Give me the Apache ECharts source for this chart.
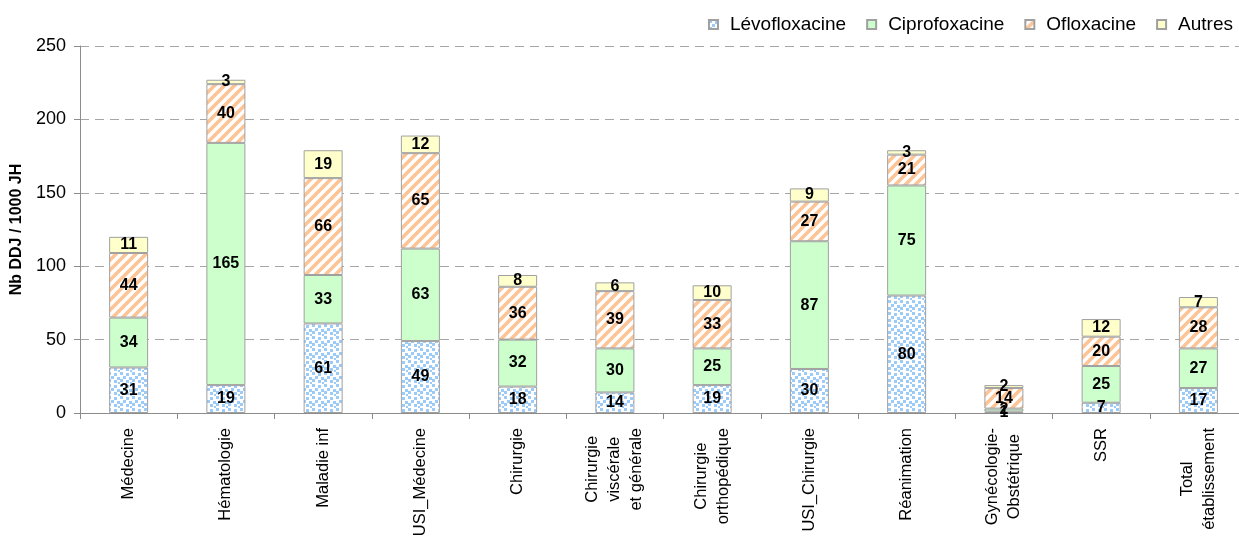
<!DOCTYPE html>
<html>
<head>
<meta charset="utf-8">
<script src="https://cdn.jsdelivr.net/npm/echarts@6/dist/echarts.min.js"></script>
<style>
html,body{margin:0;padding:0;background:#fff;}
#chart{width:1239px;height:536px;}
</style>
</head>
<body>
<div id="chart"></div>
<script>
const categories = ['Médecine', 'Hématologie', 'Maladie inf', 'USI_Médecine', 'Chirurgie',
  'Chirurgie\nviscérale\net générale', 'Chirurgie\northopédique', 'USI_Chirurgie', 'Réanimation',
  'Gynécologie-\nObstétrique', 'SSR', 'Total\nétablissement'];
const levofloxacine = [31, 19, 61, 49, 18, 14, 19, 30, 80, 1, 7, 17];
const ciprofoxacine = [34, 165, 33, 63, 32, 30, 25, 87, 75, 2, 25, 27];
const ofloxacine = [44, 40, 66, 65, 36, 39, 33, 27, 21, 14, 20, 28];
const autres = [11, 3, 19, 12, 8, 6, 10, 9, 3, 2, 12, 7];
const seriesNames = ['Lévofloxacine', 'Ciprofoxacine', 'Ofloxacine', 'Autres'];
const yTicks = [0, 50, 100, 150, 200, 250];

const FONT = '"Liberation Sans", Arial, sans-serif';

function dotsPattern() {
  const c = document.createElement('canvas');
  c.width = 12; c.height = 12;
  const g = c.getContext('2d');
  g.fillStyle = '#ffffff'; g.fillRect(0, 0, 12, 12);
  g.fillStyle = '#9dcbf8';
  const pts = [[0,0],[6,1],[3,4],[9,5],[0,7],[6,8],[10,10]];
  pts.forEach(p => g.fillRect(p[0], p[1], 3, 3));
  return {image: c, repeat: 'repeat'};
}
function stripesPattern() {
  const s = 10;
  const c = document.createElement('canvas');
  c.width = s; c.height = s;
  const g = c.getContext('2d');
  g.fillStyle = '#ffffff'; g.fillRect(0, 0, s, s);
  g.strokeStyle = '#fdc496';
  g.lineWidth = 3.6;
  g.beginPath();
  g.moveTo(-s, 2 * s); g.lineTo(2 * s, -s);
  g.moveTo(-s, s); g.lineTo(s, -s);
  g.moveTo(0, 2 * s); g.lineTo(2 * s, 0);
  g.stroke();
  return {image: c, repeat: 'repeat'};
}

const fills = [dotsPattern(), '#ccffcc', stripesPattern(), '#ffffcc'];
const dataSets = [levofloxacine, ciprofoxacine, ofloxacine, autres];

const chart = echarts.init(document.getElementById('chart'), null, {renderer: 'canvas'});
chart.setOption({
  animation: false,
  backgroundColor: '#ffffff',
  textStyle: {fontFamily: FONT},
  legend: {
    data: seriesNames,
    right: 1,
    top: 10,
    itemWidth: 9,
    itemHeight: 9,
    itemGap: 20,
    icon: 'rect',
    textStyle: {fontFamily: FONT, fontSize: 19, color: '#000', padding: [0, 0, 0, 7]}
  },
  grid: {left: 80, right: -8, top: 46, bottom: 123, containLabel: false, outerBoundsMode: 'none'},
  xAxis: {
    type: 'category',
    data: categories,
    axisLine: {lineStyle: {color: '#8c8c8c', width: 1}},
    axisTick: {show: true, length: 6, lineStyle: {color: '#8c8c8c'}},
    axisLabel: {
      rotate: 90,
      interval: 0,
      margin: 15,
      color: '#000',
      fontFamily: FONT,
      fontSize: 16.5,
      lineHeight: 22,
      formatter: v => v.split('\n').map(s => '{c|' + s + '}').join('\n'),
      rich: {c: {align: 'center', fontFamily: FONT, fontSize: 16.5, lineHeight: 22, color: '#000'}}
    }
  },
  yAxis: {
    type: 'value',
    min: yTicks[0],
    max: yTicks[yTicks.length - 1],
    interval: 50,
    name: 'Nb DDJ / 1000 JH',
    nameLocation: 'middle',
    nameGap: 53,
    nameRotate: 90,
    nameTextStyle: {fontFamily: FONT, fontSize: 16, fontWeight: 'bold', color: '#000'},
    axisLine: {show: true, lineStyle: {color: '#8c8c8c', width: 1}},
    axisTick: {show: true, length: 6, inside: false, lineStyle: {color: '#8c8c8c'}},
    axisLabel: {margin: 14, color: '#000', fontFamily: FONT, fontSize: 18},
    splitLine: {show: true, lineStyle: {color: '#a6a6a6', type: [9, 6], width: 1}}
  },
  series: seriesNames.map((name, i) => ({
    name: name,
    type: 'bar',
    stack: 'total',
    barWidth: 39,
    data: dataSets[i],
    itemStyle: {color: fills[i], borderColor: '#a0a0a0', borderWidth: 1},
    label: {
      show: true,
      position: 'inside',
      color: '#000',
      fontFamily: FONT,
      fontSize: 16,
      fontWeight: 'bold',
      formatter: p => String(p.value)
    },
    emphasis: {disabled: true}
  }))
});
</script>
</body>
</html>
